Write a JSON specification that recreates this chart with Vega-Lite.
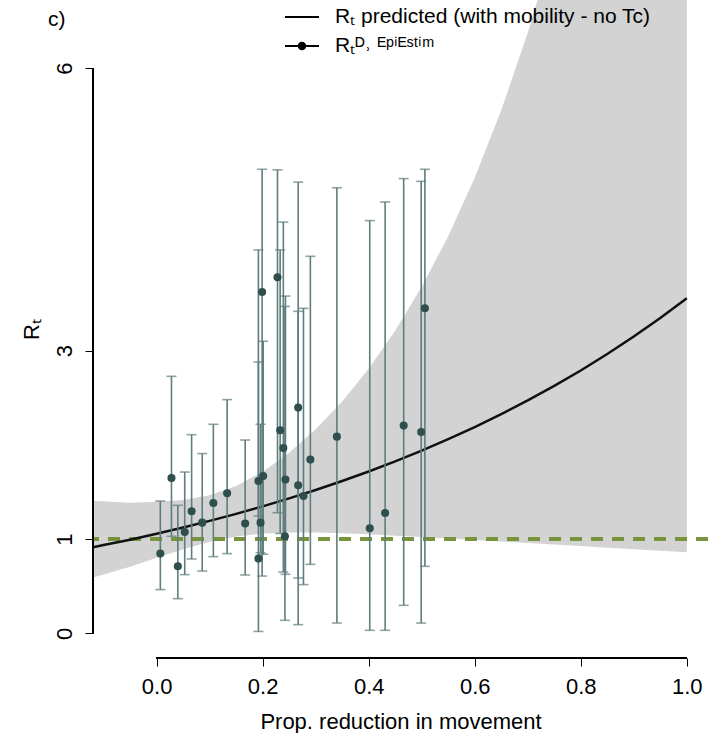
{
  "$schema": "https://vega.github.io/schema/vega-lite/v6.json",
  "autosize": "none",
  "width": 615,
  "height": 658,
  "padding": {"left": 93, "top": 0, "right": 3, "bottom": 75},
  "background": "white",
  "config": {
    "font": "Liberation Sans",
    "view": {"stroke": null},
    "axis": {"grid": false, "domain": false, "tickColor": "black", "tickSize": 8, "tickWidth": 1, "labelColor": "black", "titleColor": "black", "labelFontSize": 22, "titleFontSize": 22, "titleFontWeight": "normal", "labelFont": "Liberation Sans", "titleFont": "Liberation Sans"}
  },
  "title": {"text": "c)", "anchor": "start", "frame": "group", "dx": -45, "dy": 30, "fontSize": 21, "fontWeight": "normal", "font": "Liberation Sans", "color": "black", "offset": 0},
  "datasets": {
    "fit": [
      {"x": -0.12, "fit": 0.914, "lo": 0.592, "hi": 1.408},
      {"x": -0.1, "fit": 0.937, "lo": 0.625, "hi": 1.403},
      {"x": -0.05, "fit": 0.994, "lo": 0.706, "hi": 1.386},
      {"x": 0.0, "fit": 1.057, "lo": 0.801, "hi": 1.396},
      {"x": 0.05, "fit": 1.124, "lo": 0.892, "hi": 1.416},
      {"x": 0.1, "fit": 1.194, "lo": 0.972, "hi": 1.466},
      {"x": 0.15, "fit": 1.268, "lo": 1.029, "hi": 1.564},
      {"x": 0.2, "fit": 1.348, "lo": 1.059, "hi": 1.715},
      {"x": 0.25, "fit": 1.432, "lo": 1.07, "hi": 1.917},
      {"x": 0.3, "fit": 1.522, "lo": 1.069, "hi": 2.165},
      {"x": 0.35, "fit": 1.617, "lo": 1.062, "hi": 2.462},
      {"x": 0.4, "fit": 1.718, "lo": 1.051, "hi": 2.809},
      {"x": 0.45, "fit": 1.825, "lo": 1.037, "hi": 3.212},
      {"x": 0.5, "fit": 1.939, "lo": 1.022, "hi": 3.678},
      {"x": 0.55, "fit": 2.061, "lo": 1.007, "hi": 4.216},
      {"x": 0.6, "fit": 2.189, "lo": 0.991, "hi": 4.837},
      {"x": 0.65, "fit": 2.326, "lo": 0.975, "hi": 5.552},
      {"x": 0.7, "fit": 2.472, "lo": 0.958, "hi": 6.375},
      {"x": 0.75, "fit": 2.626, "lo": 0.942, "hi": 7.322},
      {"x": 0.8, "fit": 2.79, "lo": 0.926, "hi": 8.413},
      {"x": 0.85, "fit": 2.965, "lo": 0.909, "hi": 9.668},
      {"x": 0.9, "fit": 3.15, "lo": 0.893, "hi": 11.11},
      {"x": 0.95, "fit": 3.347, "lo": 0.877, "hi": 12.77},
      {"x": 1.0, "fit": 3.557, "lo": 0.861, "hi": 14.68}
    ],
    "obs": [
      {"x": 0.007, "y": 0.846, "lo": 0.464, "hi": 1.404},
      {"x": 0.028, "y": 1.649, "lo": 1.03, "hi": 2.728},
      {"x": 0.04, "y": 0.711, "lo": 0.368, "hi": 1.359},
      {"x": 0.053, "y": 1.075, "lo": 0.623, "hi": 1.712},
      {"x": 0.066, "y": 1.295, "lo": 0.789, "hi": 2.109},
      {"x": 0.086, "y": 1.175, "lo": 0.661, "hi": 1.908},
      {"x": 0.107, "y": 1.383, "lo": 0.814, "hi": 2.219},
      {"x": 0.133, "y": 1.486, "lo": 0.846, "hi": 2.481},
      {"x": 0.167, "y": 1.165, "lo": 0.619, "hi": 2.052},
      {"x": 0.199, "y": 3.623, "lo": 0.608, "hi": 4.926},
      {"x": 0.192, "y": 1.617, "lo": 1.245, "hi": 2.88},
      {"x": 0.201, "y": 1.67, "lo": 0.84, "hi": 3.1},
      {"x": 0.196, "y": 1.175, "lo": 0.856, "hi": 2.219},
      {"x": 0.192, "y": 0.793, "lo": 0.02, "hi": 4.07},
      {"x": 0.228, "y": 3.78, "lo": 1.28, "hi": 4.92},
      {"x": 0.233, "y": 2.155, "lo": 1.06, "hi": 4.07},
      {"x": 0.239, "y": 1.967, "lo": 0.65, "hi": 4.366},
      {"x": 0.243, "y": 1.632, "lo": 0.626, "hi": 3.58},
      {"x": 0.242, "y": 1.03, "lo": 0.138, "hi": 3.47},
      {"x": 0.267, "y": 2.396, "lo": 0.092, "hi": 4.79},
      {"x": 0.267, "y": 1.571, "lo": 0.587, "hi": 3.418},
      {"x": 0.277, "y": 1.458, "lo": 0.517, "hi": 3.45},
      {"x": 0.29, "y": 1.844, "lo": 0.732, "hi": 4.002},
      {"x": 0.34, "y": 2.088, "lo": 0.109, "hi": 4.73},
      {"x": 0.402, "y": 1.115, "lo": 0.032, "hi": 4.381},
      {"x": 0.431, "y": 1.277, "lo": 0.032, "hi": 4.579},
      {"x": 0.466, "y": 2.205, "lo": 0.297, "hi": 4.827},
      {"x": 0.499, "y": 2.137, "lo": 0.109, "hi": 4.798},
      {"x": 0.506, "y": 3.45, "lo": 0.711, "hi": 4.926}
    ]
  },
  "layer": [
    {
      "data": {"name": "fit"},
      "mark": {"type": "area", "color": "#D3D3D3", "clip": true},
      "encoding": {
        "x": {"field": "x", "type": "quantitative", "scale": {"domain": [-0.12, 1.04], "nice": false, "zero": false},
          "axis": {"values": [0, 0.2, 0.4, 0.6, 0.8, 1.0], "format": ".1f", "title": "Prop. reduction in movement", "labelPadding": 10, "titlePadding": 14}},
        "y": {"field": "lo", "type": "quantitative", "scale": {"domain": [-0.262, 6.723], "nice": false, "zero": false},
          "axis": {"values": [0, 1, 3, 6], "format": "d", "labelAngle": -90, "labelPadding": 9, "title": "Rₜ", "titlePadding": 10}},
        "y2": {"field": "hi"}
      }
    },
    {
      "data": {"name": "fit"},
      "mark": {"type": "rule", "color": "#77933C", "strokeWidth": 2.5, "strokeDash": [12, 9]},
      "encoding": {"y": {"datum": 1}}
    },
    {
      "data": {"name": "fit"},
      "mark": {"type": "line", "color": "#111111", "strokeWidth": 2.5, "clip": true},
      "encoding": {
        "x": {"field": "x", "type": "quantitative"},
        "y": {"field": "fit", "type": "quantitative"}
      }
    },
    {
      "data": {"name": "fit"},
      "mark": {"type": "point", "opacity": 0, "filled": true, "fill": "black"},
      "encoding": {
        "x": {"field": "x", "type": "quantitative"},
        "y": {"field": "fit", "type": "quantitative"},
        "shape": {
          "datum": "Rₜ predicted (with mobility - no Tc)",
          "scale": {"domain": ["Rₜ predicted (with mobility - no Tc)", "Rₜᴰ˒ ᴱᵖⁱᴱˢᵗⁱᵐ"], "range": ["M-1.4,-0.09H1.4V0.09H-1.4Z", "M-1.4,-0.09H1.4V0.09H-1.4ZM-0.35,0A0.35,0.35,0,1,1,0.35,0A0.35,0.35,0,1,1,-0.35,0Z"]},
          "legend": {"title": null, "orient": "none", "legendX": 196, "legendY": 4, "padding": 0, "symbolSize": 590, "symbolOpacity": 1, "symbolFillColor": "black", "labelFontSize": 21, "labelFont": "Liberation Sans", "labelColor": "black", "labelOffset": 20, "rowPadding": 6, "labelLimit": 600}
        }
      }
    },
    {
      "data": {"name": "obs"},
      "mark": {"type": "rule", "color": "#5E7D7D", "strokeWidth": 1.6},
      "encoding": {
        "x": {"field": "x", "type": "quantitative"},
        "y": {"field": "lo", "type": "quantitative"},
        "y2": {"field": "hi"}
      }
    },
    {
      "data": {"name": "obs"},
      "mark": {"type": "tick", "orient": "horizontal", "color": "#5E7D7D", "size": 10, "thickness": 1.6},
      "encoding": {
        "x": {"field": "x", "type": "quantitative"},
        "y": {"field": "lo", "type": "quantitative"}
      }
    },
    {
      "data": {"name": "obs"},
      "mark": {"type": "tick", "orient": "horizontal", "color": "#5E7D7D", "size": 10, "thickness": 1.6},
      "encoding": {
        "x": {"field": "x", "type": "quantitative"},
        "y": {"field": "hi", "type": "quantitative"}
      }
    },
    {
      "data": {"name": "obs"},
      "mark": {"type": "circle", "color": "#2F4F4F", "opacity": 1, "size": 65},
      "encoding": {
        "x": {"field": "x", "type": "quantitative"},
        "y": {"field": "y", "type": "quantitative"}
      }
    },
    {
      "data": {"name": "obs"},
      "mark": {"type": "rule", "color": "black", "strokeWidth": 1},
      "encoding": {"x": {"datum": 0}, "x2": {"datum": 1}, "y": {"datum": -0.262}}
    },
    {
      "data": {"name": "obs"},
      "mark": {"type": "rule", "color": "black", "strokeWidth": 1},
      "encoding": {"x": {"datum": -0.12}, "y": {"datum": 0}, "y2": {"datum": 6}}
    }
  ]
}
